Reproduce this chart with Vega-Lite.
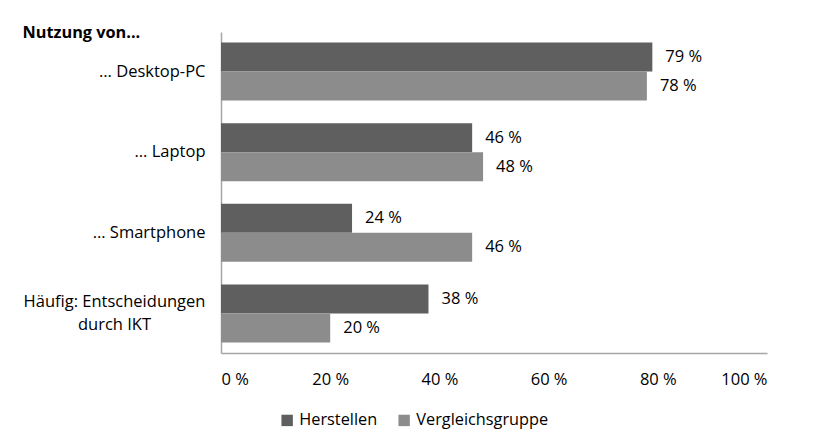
{
  "$schema": "https://vega.github.io/schema/vega-lite/v6.json",
  "width": 546,
  "height": 321,
  "autosize": "none",
  "padding": {"left": 221, "top": 32, "right": 61, "bottom": 93},
  "background": "white",
  "config": {"view": {"stroke": null}, "font": "Open Sans"},
  "data": {
    "values": [
      {"cat": "… Desktop-PC", "series": "Herstellen", "value": 79, "label": "79 %"},
      {"cat": "… Desktop-PC", "series": "Vergleichsgruppe", "value": 78, "label": "78 %"},
      {"cat": "… Laptop", "series": "Herstellen", "value": 46, "label": "46 %"},
      {"cat": "… Laptop", "series": "Vergleichsgruppe", "value": 48, "label": "48 %"},
      {"cat": "… Smartphone", "series": "Herstellen", "value": 24, "label": "24 %"},
      {"cat": "… Smartphone", "series": "Vergleichsgruppe", "value": 46, "label": "46 %"},
      {"cat": "Häufig: Entscheidungen durch IKT", "series": "Herstellen", "value": 38, "label": "38 %"},
      {"cat": "Häufig: Entscheidungen durch IKT", "series": "Vergleichsgruppe", "value": 20, "label": "20 %"}
    ]
  },
  "encoding": {
    "y": {
      "field": "cat",
      "type": "nominal",
      "sort": ["… Desktop-PC", "… Laptop", "… Smartphone", "Häufig: Entscheidungen durch IKT"],
      "scale": {"paddingInner": 0.28, "paddingOuter": 0.13},
      "axis": {
        "title": "Nutzung von...",
        "titleAngle": 0,
        "titleAlign": "left",
        "titleBaseline": "middle",
        "titleX": -199,
        "titleY": 0,
        "titleFontSize": 16.3,
        "titleFontWeight": "bold",
        "titleColor": "black",
        "labelFontSize": 16.5,
        "labelColor": "black",
        "labelAlign": {"condition": {"test": "datum.value == 'Häufig: Entscheidungen durch IKT'", "value": "center"}, "value": "right"},
        "labelPadding": {"condition": {"test": "datum.value == 'Häufig: Entscheidungen durch IKT'", "value": 107}, "value": 16},
        "labelOffset": {"condition": {"test": "datum.value == 'Häufig: Entscheidungen durch IKT'", "value": -11}, "value": 0},
        "labelLimit": 300,
        "labelLineHeight": 23,
        "labelExpr": "datum.value == 'Häufig: Entscheidungen durch IKT' ? ['Häufig: Entscheidungen', 'durch IKT'] : datum.value",
        "ticks": false,
        "domainColor": "#a6a6a6",
        "domainWidth": 1.5
      }
    },
    "yOffset": {"field": "series", "sort": ["Herstellen", "Vergleichsgruppe"]},
    "x": {
      "field": "value",
      "type": "quantitative",
      "scale": {"domain": [0, 100]},
      "axis": {
        "values": [0, 20, 40, 60, 80, 100],
        "labelExpr": "datum.value + ' %'",
        "grid": false,
        "ticks": false,
        "title": null,
        "labelFontSize": 16.5,
        "labelColor": "black",
        "labelPadding": 18,
        "domainColor": "#a6a6a6",
        "domainWidth": 1.5
      }
    }
  },
  "layer": [
    {
      "mark": {"type": "bar"},
      "encoding": {
        "color": {
          "field": "series",
          "type": "nominal",
          "scale": {"domain": ["Herstellen", "Vergleichsgruppe"], "range": ["#5f5f5f", "#8c8c8c"]},
          "legend": {
            "title": null,
            "orient": "none",
            "legendX": 58,
            "legendY": 380,
            "direction": "horizontal",
            "symbolType": "square",
            "symbolSize": 130,
            "symbolStrokeWidth": 0,
            "labelFontSize": 16.3,
            "labelColor": "black",
            "columnPadding": 18,
            "labelOffset": 4
          }
        }
      }
    },
    {
      "mark": {"type": "text", "align": "left", "baseline": "middle", "dx": 13, "fontSize": 16.5, "color": "black"},
      "encoding": {"text": {"field": "label"}}
    }
  ]
}
